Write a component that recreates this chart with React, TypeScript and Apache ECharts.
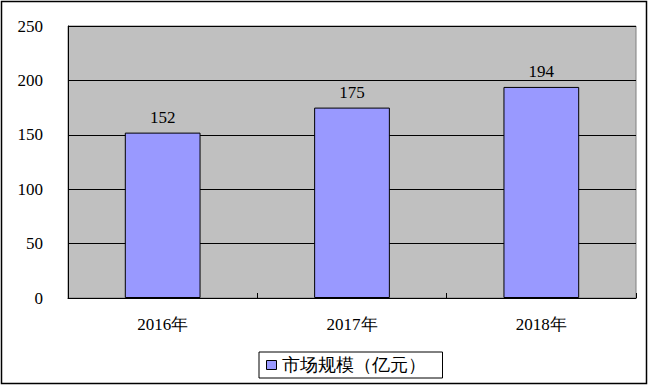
import React, { useEffect, useRef } from "react";
import * as echarts from "echarts";

const categories = ["2016年", "2017年", "2018年"];
const marketSize = [152, 175, 194];
const seriesName = "市场规模（亿元）";
const yMin = 0;
const yMax = 250;
const yInterval = 50;

const FONT = "'Liberation Serif', 'Times New Roman', serif";

export default function App() {
  const ref = useRef<HTMLDivElement>(null);
  useEffect(() => {
    if (!ref.current) return;
    const chart = echarts.init(ref.current, null, { renderer: "svg" });
    chart.setOption({
      animation: false,
      backgroundColor: "#ffffff",
      textStyle: { fontFamily: FONT, color: "#000" },
      grid: {
        left: 68,
        top: 26,
        width: 568,
        height: 272,
        show: true,
        backgroundColor: "#C0C0C0",
        borderColor: "#808080",
        borderWidth: 1,
      },
      xAxis: {
        type: "category",
        data: categories,
        axisLine: { show: true, lineStyle: { color: "#000", width: 1 } },
        axisTick: { show: true, inside: true, length: 5, alignWithLabel: false, lineStyle: { color: "#000" } },
        axisLabel: { color: "#000", fontSize: 17, fontFamily: FONT, margin: 18 },
        splitLine: { show: false },
      },
      yAxis: {
        type: "value",
        min: yMin,
        max: yMax,
        interval: yInterval,
        axisLine: { show: true, lineStyle: { color: "#000", width: 1 } },
        axisTick: { show: false },
        axisLabel: { color: "#000", fontSize: 17, fontFamily: FONT, margin: 25 },
        splitLine: { show: true, lineStyle: { color: "#000", width: 1 } },
      },
      legend: {
        show: true,
        left: 259,
        top: 352,
        orient: "horizontal",
        padding: [4, 17, 4, 7],
        borderColor: "#000",
        borderWidth: 1,
        itemWidth: 10,
        itemHeight: 9,
        itemGap: 5,
        icon: "rect",
        textStyle: { color: "#000", fontSize: 18, fontFamily: FONT },
        data: [
          {
            name: seriesName,
            itemStyle: { color: "#9999FF", borderColor: "#000", borderWidth: 1 },
          },
        ],
      },
      series: [
        {
          name: seriesName,
          type: "bar",
          data: marketSize,
          barWidth: "40%",
          itemStyle: { color: "#9999FF", borderColor: "#000", borderWidth: 1 },
          label: {
            show: true,
            position: "top",
            distance: 7,
            color: "#000",
            fontSize: 17,
            fontFamily: FONT,
          },
        },
      ],
      graphic: [
        {
          type: "rect",
          shape: { x: 1.5, y: 1.5, width: 645, height: 382 },
          style: { fill: "none", stroke: "#000", lineWidth: 1.5 },
          silent: true,
          z: 100,
        },
      ],
    });
    return () => chart.dispose();
  }, []);
  return (
    <div
      ref={ref}
      style={{ position: "fixed", left: 0, top: 0, width: 648, height: 386 }}
    />
  );
}
